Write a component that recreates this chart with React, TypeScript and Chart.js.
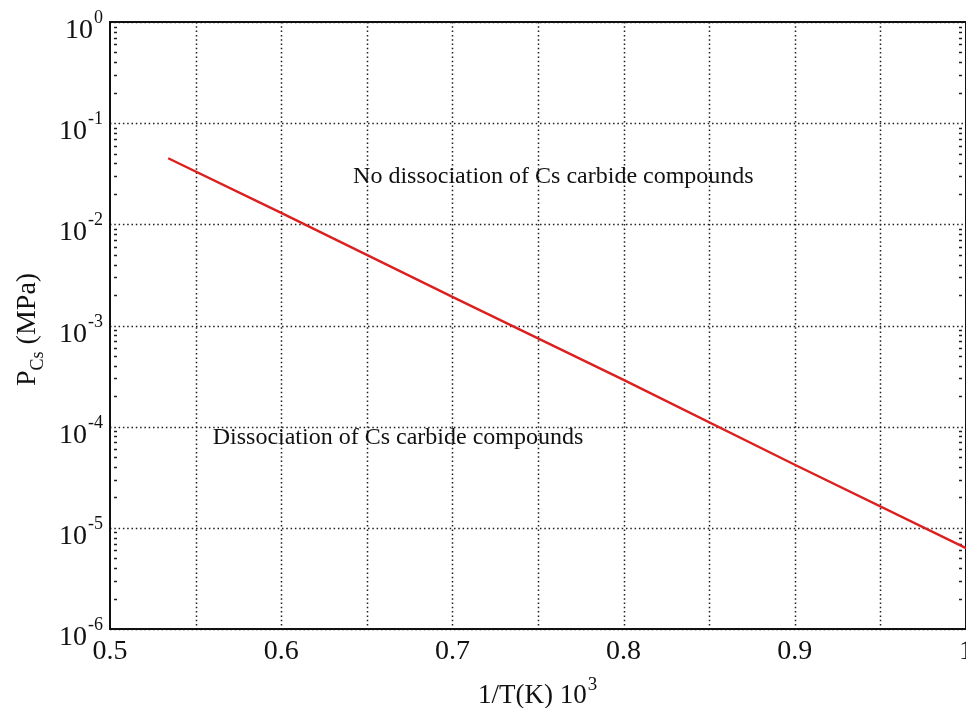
import React, { useEffect, useRef } from "react";
import { Chart, registerables } from "chart.js";

Chart.register(...registerables);

// ---- data ----
const invT: number[] = [0.534, 0.6, 0.7, 0.8, 0.9, 1.0];
const pCs: number[] = [4.5e-2, 1.3e-2, 1.92e-3, 2.9e-4, 4.2e-5, 6.3e-6];

const xTickValues: number[] = [0.5, 0.6, 0.7, 0.8, 0.9, 1.0];
const xTickLabels: string[] = ["0.5", "0.6", "0.7", "0.8", "0.9", "1"];
const xGridValues: number[] = [0.55, 0.6, 0.65, 0.7, 0.75, 0.8, 0.85, 0.9, 0.95];
const yExponents: number[] = [0, -1, -2, -3, -4, -5, -6];

const noteTexts: string[] = [
  "No dissociation of Cs carbide compounds",
  "Dissociation of Cs carbide compounds",
];
const noteX: number[] = [0.642, 0.56];
const noteY: number[] = [0.0258, 6.8e-5];

const xTitleMain = "1/T(K) 10";
const xTitleSup = "3";
const yTitleMain = "P";
const yTitleSub = "Cs";
const yTitleRest = " (MPa)";

const FONT = '"Liberation Serif", "Times New Roman", serif';

const overlayPlugin = {
  id: "overlay",
  beforeDatasetsDraw(chart: any) {
    const { ctx, chartArea: a, scales } = chart;
    const x = scales.x;
    const y = scales.y;
    ctx.save();
    // dotted grid
    ctx.strokeStyle = "#1e1e1e";
    ctx.lineWidth = 1.5;
    ctx.setLineDash([1.5, 2.8]);
    for (const v of xGridValues) {
      const px = Math.round(x.getPixelForValue(v)) + 0.5;
      ctx.beginPath();
      ctx.moveTo(px, a.top);
      ctx.lineTo(px, a.bottom);
      ctx.stroke();
    }
    for (const e of yExponents) {
      const py = Math.round(y.getPixelForValue(Math.pow(10, e))) + 0.5;
      ctx.beginPath();
      ctx.moveTo(a.left, py);
      ctx.lineTo(a.right, py);
      ctx.stroke();
    }
    // minor log ticks on left and right edges
    ctx.setLineDash([]);
    ctx.lineWidth = 1.4;
    for (const e of yExponents) {
      if (e === 0) continue;
      for (let m = 2; m <= 9; m++) {
        const py = Math.round(y.getPixelForValue(m * Math.pow(10, e))) + 0.5;
        ctx.beginPath();
        ctx.moveTo(a.left + 4, py);
        ctx.lineTo(a.left + 7, py);
        ctx.moveTo(a.right - 7, py);
        ctx.lineTo(a.right - 4, py);
        ctx.stroke();
      }
    }
    // frame
    ctx.strokeStyle = "#111";
    ctx.lineWidth = 2;
    ctx.strokeRect(a.left, a.top, a.right - a.left, a.bottom - a.top);
    ctx.restore();
  },
  afterDraw(chart: any) {
    const { ctx, scales } = chart;
    const x = scales.x;
    const y = scales.y;
    ctx.save();
    ctx.fillStyle = "#111";
    ctx.textBaseline = "alphabetic";

    // y tick labels 10^e
    const rightEdge = 103;
    for (const e of yExponents) {
      const py = y.getPixelForValue(Math.pow(10, e));
      const exp = String(e);
      ctx.font = `18px ${FONT}`;
      ctx.textAlign = "right";
      const w = ctx.measureText(exp).width;
      ctx.fillText(exp, rightEdge, py + 1);
      ctx.font = `28px ${FONT}`;
      ctx.fillText("10", rightEdge - w - 1, py + 16);
    }

    // x tick labels
    ctx.font = `28px ${FONT}`;
    ctx.textAlign = "center";
    xTickValues.forEach((v, i) => {
      ctx.fillText(xTickLabels[i], x.getPixelForValue(v), 659);
    });

    // x title
    ctx.textAlign = "left";
    ctx.font = `27px ${FONT}`;
    const xt0 = 478;
    ctx.fillText(xTitleMain, xt0, 703);
    const wMain = ctx.measureText(xTitleMain).width;
    ctx.font = `19px ${FONT}`;
    ctx.fillText(xTitleSup, xt0 + wMain + 1, 690);

    // y title (rotated)
    ctx.save();
    ctx.translate(35, 386);
    ctx.rotate(-Math.PI / 2);
    ctx.textAlign = "left";
    ctx.font = `28px ${FONT}`;
    ctx.fillText(yTitleMain, 0, 0);
    let off = ctx.measureText(yTitleMain).width;
    ctx.font = `18px ${FONT}`;
    ctx.fillText(yTitleSub, off, 8);
    off += ctx.measureText(yTitleSub).width;
    ctx.font = `28px ${FONT}`;
    ctx.fillText(yTitleRest, off, 0);
    ctx.restore();

    // annotations
    ctx.font = `24px ${FONT}`;
    ctx.textAlign = "left";
    noteTexts.forEach((t, i) => {
      ctx.fillText(t, x.getPixelForValue(noteX[i]), y.getPixelForValue(noteY[i]));
    });
    ctx.restore();
  },
};

export default function App() {
  const ref = useRef<HTMLCanvasElement | null>(null);
  useEffect(() => {
    if (!ref.current) return;
    const chart = new Chart(ref.current, {
      type: "line",
      data: {
        datasets: [
          {
            label: "PCs",
            data: invT.map((v, i) => ({ x: v, y: pCs[i] })),
            borderColor: "#dc1f1f",
            borderWidth: 2.4,
            pointRadius: 0,
            tension: 0,
            fill: false,
          },
        ],
      },
      options: {
        responsive: false,
        animation: false,
        layout: { padding: { left: 110, top: 22, right: 0, bottom: 79 } },
        plugins: {
          legend: { display: false },
          tooltip: { enabled: false },
          title: { display: false },
        },
        scales: {
          x: { type: "linear", min: 0.5, max: 1.0, display: false },
          y: { type: "logarithmic", min: 1e-6, max: 1, display: false },
        },
      },
      plugins: [overlayPlugin],
    });
    return () => chart.destroy();
  }, []);
  return (
    <div style={{ position: "fixed", left: 0, top: 0, width: 966, height: 708, background: "#fff" }}>
      <canvas ref={ref} width={966} height={708} style={{ display: "block" }} />
    </div>
  );
}
